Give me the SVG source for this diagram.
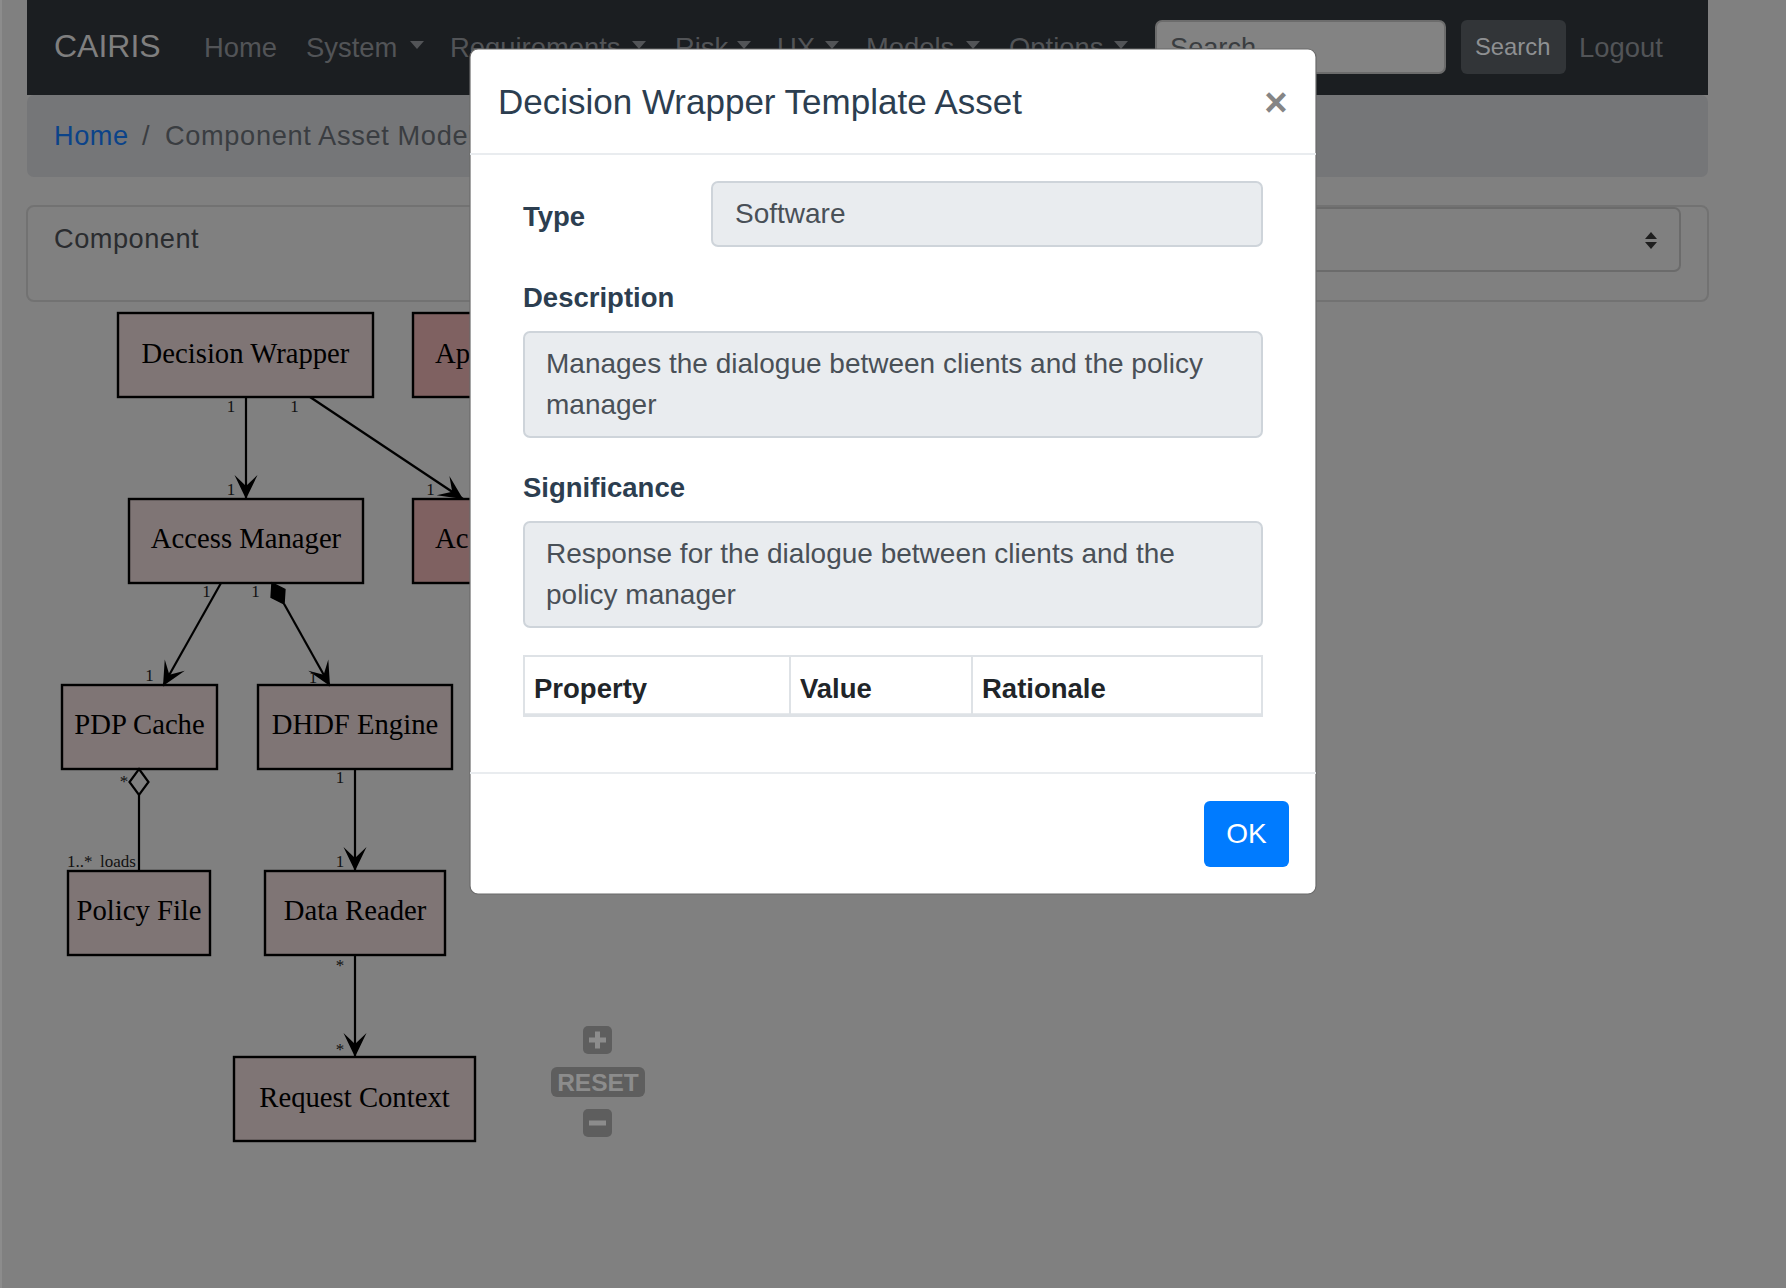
<svg xmlns="http://www.w3.org/2000/svg" width="1786" height="1288" viewBox="0 0 1786 1288">
<style>
.sans{font-family:"Liberation Sans",Arial,Helvetica,sans-serif}
.serif{font-family:"Liberation Serif","Times New Roman",serif}
.nav{font-size:27.4px;fill:#525457}
.node rect{stroke:#000;stroke-width:2.4}
.nfill{fill:#7f7575}
.rfill{fill:#7f6161}
.ntext{font-size:28.7px;fill:#000;text-anchor:middle}
.elab{font-size:17px;fill:#111;text-anchor:middle}
.edge{stroke:#000;stroke-width:2.2;fill:none}
.lbl{font-size:27.5px;font-weight:bold;fill:#2c3e50}
.field{fill:#e9ecef;stroke:#ced4da;stroke-width:2}
.ftext{font-size:28px;fill:#495057}
.th{font-size:27.5px;font-weight:bold;fill:#212529}
.sep{stroke:#e9ecef;stroke-width:2}
.ctl{fill:#5e5e5e}
.ctlsym{stroke:#8c8c8c;stroke-width:5;stroke-linecap:butt}
</style>
<defs>
<marker id="vee" markerUnits="userSpaceOnUse" markerWidth="26" markerHeight="24" refX="24" refY="11.5" orient="auto" overflow="visible">
<path d="M24,11.5 L0,0 L11,11.5 L0,23 Z" fill="#000"/>
</marker>
</defs>

<!-- page background under backdrop -->
<rect x="0" y="0" width="1786" height="1288" fill="#808080"/>
<rect x="0" y="0" width="2" height="1288" fill="#8c8c8c"/>

<!-- navbar -->
<g id="navbar">
<rect x="27" y="0" width="1681" height="95" fill="#1b1e21"/>
<text class="sans" x="54" y="57" font-size="32" fill="#7f7f7f">CAIRIS</text>
<text class="sans nav" x="204" y="57">Home</text>
<text class="sans nav" x="306" y="57">System</text>
<polygon points="410,41 424,41 417,49" fill="#525457"/>
<text class="sans nav" x="450" y="57">Requirements</text>
<polygon points="632,41 646,41 639,49" fill="#525457"/>
<text class="sans nav" x="675" y="57">Risk</text>
<polygon points="737,41 751,41 744,49" fill="#525457"/>
<text class="sans nav" x="777" y="57">UX</text>
<polygon points="825,41 839,41 832,49" fill="#525457"/>
<text class="sans nav" x="866" y="57">Models</text>
<polygon points="966,41 980,41 973,49" fill="#525457"/>
<text class="sans nav" x="1009" y="57">Options</text>
<polygon points="1114,41 1128,41 1121,49" fill="#525457"/>
<rect x="1156" y="21" width="289" height="52" rx="6" fill="#838383" stroke="#6c6c6c" stroke-width="2"/>
<text class="sans" x="1170" y="57" font-size="27.2" fill="#3a3d40">Search</text>
<rect x="1461" y="20" width="105" height="54" rx="6" fill="#323538"/>
<text class="sans" x="1475" y="55" font-size="23.8" fill="#8e9092">Search</text>
<text class="sans nav" x="1579" y="57">Logout</text>
</g>

<!-- breadcrumb -->
<g id="breadcrumb">
<rect x="27" y="95" width="1681" height="82" rx="7" fill="#757678"/>
<text class="sans" x="54" y="145" font-size="27.2" fill="#0b4389" letter-spacing="0.5">Home</text>
<text class="sans" x="142" y="145" font-size="27.2" fill="#3a3d41">/</text>
<text class="sans" x="165" y="145" font-size="27.2" fill="#3a3d41" letter-spacing="0.65">Component Asset Model</text>
</g>

<!-- component card -->
<g id="component-card">
<rect x="27" y="206" width="1681" height="95" rx="7" fill="#808080" stroke="#727272" stroke-width="2"/>
<text class="sans" x="54" y="248" font-size="27.2" fill="#2a2c2f" letter-spacing="0.5">Component</text>
<rect x="1100" y="208" width="580" height="63" rx="6" fill="#808080" stroke="#6b6b6b" stroke-width="2"/>
<polygon points="1645,239 1657,239 1651,232" fill="#1e1e1e"/>
<polygon points="1645,242 1657,242 1651,249" fill="#1e1e1e"/>
</g>

<!-- diagram nodes -->
<g id="node-decision-wrapper" class="node">
<rect class="nfill" x="118" y="313" width="255" height="84"/>
<text class="serif ntext" x="245.5" y="363">Decision Wrapper</text>
</g>
<g id="node-ap" class="node">
<rect class="rfill" x="413" y="313" width="120" height="84"/>
<text class="serif ntext" x="435" y="363" style="text-anchor:start">Ap</text>
</g>
<g id="node-access-manager" class="node">
<rect class="nfill" x="129" y="499" width="234" height="84"/>
<text class="serif ntext" x="246" y="548">Access Manager</text>
</g>
<g id="node-ac" class="node">
<rect class="rfill" x="413" y="499" width="120" height="84"/>
<text class="serif ntext" x="435" y="548" style="text-anchor:start">Ac</text>
</g>
<g id="node-pdp-cache" class="node">
<rect class="nfill" x="62" y="685" width="155" height="84"/>
<text class="serif ntext" x="139.5" y="734">PDP Cache</text>
</g>
<g id="node-dhdf-engine" class="node">
<rect class="nfill" x="258" y="685" width="194" height="84"/>
<text class="serif ntext" x="355" y="734">DHDF Engine</text>
</g>
<g id="node-policy-file" class="node">
<rect class="nfill" x="68" y="871" width="142" height="84"/>
<text class="serif ntext" x="139" y="920">Policy File</text>
</g>
<g id="node-data-reader" class="node">
<rect class="nfill" x="265" y="871" width="180" height="84"/>
<text class="serif ntext" x="355" y="920">Data Reader</text>
</g>
<g id="node-request-context" class="node">
<rect class="nfill" x="234" y="1057" width="241" height="84"/>
<text class="serif ntext" x="354.5" y="1107">Request Context</text>
</g>

<!-- connectors -->
<g id="connectors">
<path class="edge" d="M246,397 L246,499" marker-end="url(#vee)"/>
<text class="serif elab" x="231" y="412">1</text>
<text class="serif elab" x="231" y="495">1</text>

<path class="edge" d="M310,397 L463,499" marker-end="url(#vee)"/>
<text class="serif elab" x="294.5" y="412">1</text>
<text class="serif elab" x="430.5" y="495">1</text>

<path class="edge" d="M221,583 L163,686" marker-end="url(#vee)"/>
<text class="serif elab" x="206.5" y="597">1</text>
<text class="serif elab" x="149.5" y="681">1</text>

<polygon points="272,583 284.9,589.4 284,603.8 271.1,597.4" fill="#000" stroke="#000" stroke-width="1.5"/>
<path class="edge" d="M284,603.8 L330,686" marker-end="url(#vee)"/>
<text class="serif elab" x="255.5" y="597">1</text>
<text class="serif elab" x="313" y="683">1</text>

<polygon points="139,769 148.5,782 139,795 129.5,782" fill="none" stroke="#000" stroke-width="2.2"/>
<path class="edge" d="M139,795 L139,871"/>
<text class="serif elab" x="124" y="787">*</text>
<text class="serif elab" x="67" y="867" style="text-anchor:start">1..*</text>
<text class="serif elab" x="100" y="867" style="text-anchor:start">loads</text>

<path class="edge" d="M355,769 L355,871" marker-end="url(#vee)"/>
<text class="serif elab" x="340" y="783">1</text>
<text class="serif elab" x="340" y="867">1</text>

<path class="edge" d="M355,955 L355,1057" marker-end="url(#vee)"/>
<text class="serif elab" x="340" y="971">*</text>
<text class="serif elab" x="340" y="1055">*</text>
</g>

<!-- zoom controls -->
<g id="zoom-controls">
<rect class="ctl" x="583" y="1026" width="29" height="28" rx="5"/>
<path class="ctlsym" d="M589,1040 H606 M597.5,1031.5 V1048.5"/>
<rect class="ctl" x="551" y="1067" width="94" height="30" rx="6"/>
<text class="sans" x="598" y="1091" font-size="24.5" font-weight="bold" fill="#8c8c8c" text-anchor="middle">RESET</text>
<rect class="ctl" x="583" y="1109" width="29" height="28" rx="5"/>
<path class="ctlsym" d="M589,1123 H606"/>
</g>

<!-- modal -->
<g id="modal">
<rect x="470" y="49" width="846" height="845" rx="8" fill="#ffffff" stroke="#6a6a6a" stroke-width="1.2"/>
<text class="sans" x="498" y="114" font-size="35" fill="#2c3e50">Decision Wrapper Template Asset</text>
<text class="sans" x="1276" y="116" font-size="40" font-weight="bold" fill="#858585" text-anchor="middle">×</text>
<line class="sep" x1="470" y1="154" x2="1316" y2="154"/>

<text class="sans lbl" x="523" y="226">Type</text>
<rect class="field" x="712" y="182" width="550" height="64" rx="6"/>
<text class="sans ftext" x="735" y="223">Software</text>

<text class="sans lbl" x="523" y="307">Description</text>
<rect class="field" x="524" y="332" width="738" height="105" rx="6"/>
<text class="sans ftext" x="546" y="373">Manages the dialogue between clients and the policy</text>
<text class="sans ftext" x="546" y="414">manager</text>

<text class="sans lbl" x="523" y="497">Significance</text>
<rect class="field" x="524" y="522" width="738" height="105" rx="6"/>
<text class="sans ftext" x="546" y="563">Response for the dialogue between clients and the</text>
<text class="sans ftext" x="546" y="604">policy manager</text>

<rect x="524" y="656" width="738" height="60" fill="#ffffff" stroke="#dee2e6" stroke-width="2"/>
<line x1="524" y1="715" x2="1262" y2="715" stroke="#dee2e6" stroke-width="3.5"/>
<line x1="790" y1="656" x2="790" y2="714" stroke="#dee2e6" stroke-width="2"/>
<line x1="972" y1="656" x2="972" y2="714" stroke="#dee2e6" stroke-width="2"/>
<text class="sans th" x="534" y="698">Property</text>
<text class="sans th" x="800" y="698">Value</text>
<text class="sans th" x="982" y="698">Rationale</text>

<line class="sep" x1="470" y1="773" x2="1316" y2="773"/>
<rect x="1204" y="801" width="85" height="66" rx="6" fill="#007bff"/>
<text class="sans" x="1246.5" y="843" font-size="28" fill="#ffffff" text-anchor="middle">OK</text>
</g>
</svg>
